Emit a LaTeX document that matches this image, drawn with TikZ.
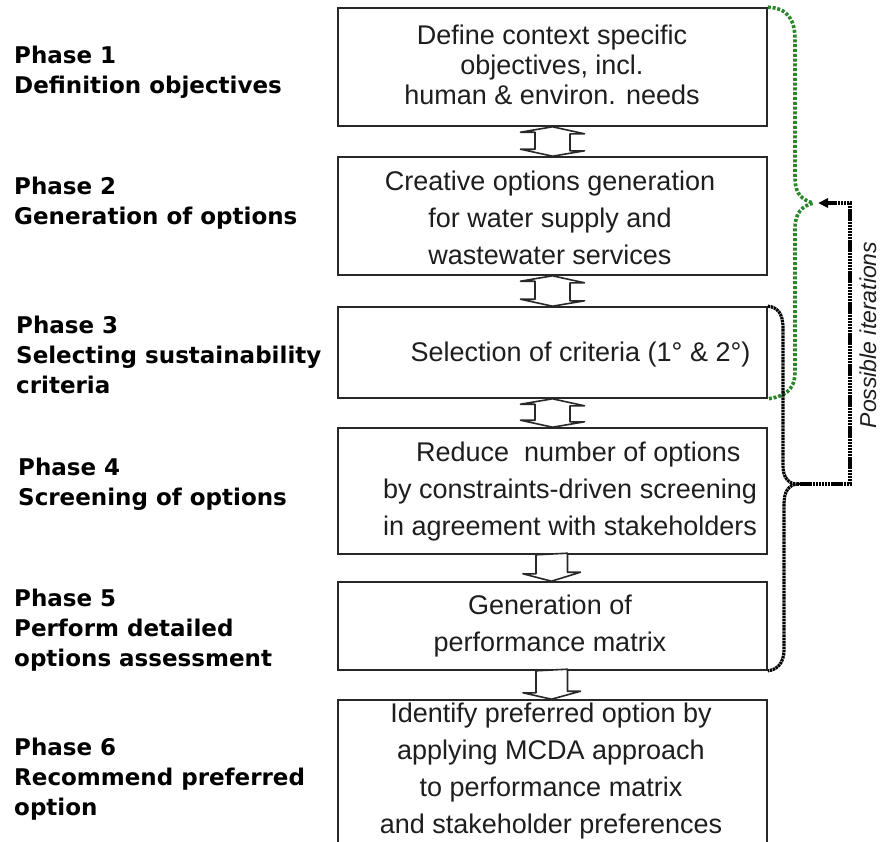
\documentclass[tikz,border=0pt]{standalone}
\usepackage{fontspec}
\setmainfont{Liberation Sans}
\newfontfamily\lblfont{DejaVu Sans}
\usetikzlibrary{arrows.meta}
\definecolor{edge}{RGB}{40,40,40}
\definecolor{txt}{RGB}{30,30,30}
\definecolor{grn}{RGB}{40,135,40}
\begin{document}
\begin{tikzpicture}[x=1pt,y=-1pt,
  box/.style={draw=edge,line width=1.6pt,rectangle,minimum width=429pt,inner sep=0pt},
  btext/.style={font=\fontsize{27}{37}\selectfont,text=txt,align=center,inner sep=0pt},
  lbl/.style={font=\lblfont\bfseries\fontsize{23}{30}\selectfont,text=black,align=left,anchor=west,inner sep=0pt},
  blockarr/.style={draw=edge,line width=1.6pt,fill=white,line join=round},
  gdots/.style={draw=grn,line width=3.6pt,dash pattern=on 3pt off 1.8pt},
  kdots/.style={draw=black,line width=3.2pt,dash pattern=on 2.4pt off 0.7pt}]
\clip (0,0) rectangle (880,841);
\fill[white] (0,0) rectangle (880,841);

% boxes
\node[box,minimum height=118pt] (b1) at (552.5,67) {};
\node[box,minimum height=118pt] (b2) at (552.5,216) {};
\node[box,minimum height=91pt] (b3) at (552.5,352.5) {};
\node[box,minimum height=126pt] (b4) at (552.5,491) {};
\node[box,minimum height=88pt] (b5) at (552.5,626) {};
\node[box,minimum height=170pt] (b6) at (552.5,785) {};

% box texts
\node[btext,font=\fontsize{27}{30}\selectfont] (t1) at (552,65) {Define context specific\\objectives, incl.\\human \& environ. needs};
\node[btext] (t2) at (550,218) {Creative options generation\\for water supply and\\wastewater services};
\node[btext] (t3) at (580.5,355) {Selection of criteria (1° \& 2°)};
\node[btext,align=left,anchor=west] (t4) at (383,492) {\hspace*{33pt}Reduce\ \ number of options\\by constraints-driven screening\\in agreement with stakeholders};
\node[btext] (t5) at (550,626) {Generation of\\performance matrix};
\node[btext] (t6) at (551,771) {Identify preferred option by\\applying MCDA approach\\to performance matrix\\and stakeholder preferences};

% phase labels
\node[lbl] (p1) at (14,72) {Phase 1\\Definition objectives};
\node[lbl] (p2) at (14,203) {Phase 2\\Generation of options};
\node[lbl] (p3) at (16,355) {Phase 3\\Selecting sustainability\\criteria};
\node[lbl] (p4) at (18,484) {Phase 4\\Screening of options};
\node[lbl] (p5) at (14,630) {Phase 5\\Perform detailed\\options assessment};
\node[lbl] (p6) at (14,779) {Phase 6\\Recommend preferred\\option};

% double block arrows
\draw[blockarr] (b1.south) -- ++(32,7) -- ++(-14.5,0) -- ++(0,17) -- ++(14.5,0) -- (b2.north)
  -- ++(-32,-7) -- ++(14.5,0) -- ++(0,-17) -- ++(-14.5,0) -- cycle;
\draw[blockarr] (b2.south) -- ++(32,7) -- ++(-14.5,0) -- ++(0,18) -- ++(14.5,0) -- (b3.north)
  -- ++(-32,-7) -- ++(14.5,0) -- ++(0,-18) -- ++(-14.5,0) -- cycle;
\draw[blockarr] (b3.south) -- ++(32,7) -- ++(-14.5,0) -- ++(0,16) -- ++(14.5,0) -- (b4.north)
  -- ++(-32,-7) -- ++(14.5,0) -- ++(0,-16) -- ++(-14.5,0) -- cycle;
% single block arrows
\draw[blockarr] ([xshift=-16.5pt]b4.south) -- ++(0,19) -- ++(-13,0) -- ([xshift=-1pt]b5.north)
  -- ++(29,-9) -- ++(-13,0) -- ++(0,-19) -- cycle;
\draw[blockarr] ([xshift=-16.5pt]b5.south) -- ++(0,22) -- ++(-13,0) -- ([xshift=-1pt]b6.north)
  -- ++(29,-8) -- ++(-13,0) -- ++(0,-22) -- cycle;

% braces
\coordinate (gtip) at (813,203);
\coordinate (btip) at (797,484);
\coordinate (atip) at (818,203);
\draw[gdots] (b1.north east) .. controls (788,8) and (795,20) .. (795,40) -- (795,178)
  .. controls (795,195) and (803,200) .. (gtip)
  .. controls (803,206) and (795,212) .. (795,228) -- (795,372)
  .. controls (795,392) and (782,397) .. (b3.south east);
\draw[kdots] (b3.north east) .. controls (777,307) and (783,313) .. (783,328) -- (783,466)
  .. controls (783,478) and (789,484) .. (btip)
  .. controls (789,485) and (784,491) .. (784,504) -- (784,650)
  .. controls (784,664) and (776,670) .. (b5.south east);
\draw[kdots,-{Triangle[length=10pt,width=9pt]}] (btip) -- (850,484) |- (atip);

\node[rotate=90,font=\itshape\fontsize{23}{23}\selectfont,text=txt,inner sep=0pt] (pi) at (868,335) {Possible iterations};
\end{tikzpicture}
\end{document}
